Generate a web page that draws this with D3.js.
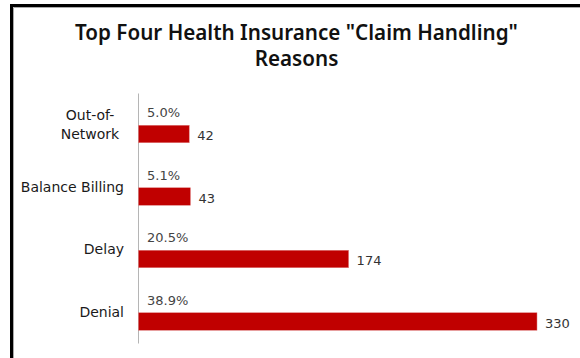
<!DOCTYPE html>
<html>
<head>
<meta charset="utf-8">
<script src="https://cdn.jsdelivr.net/npm/d3@7/dist/d3.min.js"></script>
<style>
  html, body { margin: 0; padding: 0; background: #fff; }
  svg { display: block; font-family: "DejaVu Sans", sans-serif; }
</style>
</head>
<body>
<svg id="chart" width="580" height="358"></svg>
<script>
// Complaint categories, counts and share of all claim-handling complaints
const categories = ["Out-of-Network", "Balance Billing", "Delay", "Denial"];
const counts = [42, 43, 174, 330];
const shares = ["5.0%", "5.1%", "20.5%", "38.9%"];
const titleLines = ["Top Four Health Insurance \"Claim Handling\"", "Reasons"];
const labelLines = { "Out-of-Network": ["Out-of-", "Network"] };

const svg = d3.select("#chart");
const W = 580, H = 358;

svg.append("rect").attr("width", W).attr("height", H).attr("fill", "#fff");

// Frame: heavy black edge on top and left with a faint grey inner line
svg.append("path")
  .attr("d", `M11.5,${H} V5.5 H${W}`)
  .attr("fill", "none").attr("stroke", "#000").attr("stroke-width", 3);
svg.append("path")
  .attr("d", `M13.5,${H} V7.5 H${W}`)
  .attr("fill", "none").attr("stroke", "#aaa").attr("stroke-width", 1);

// Title, sized so the first line spans the chart's title width
const title = svg.append("g")
  .attr("text-anchor", "middle")
  .style("font-family", "'Noto Sans', 'DejaVu Sans', sans-serif")
  .style("font-size", "20px")
  .style("font-weight", 600)
  .attr("fill", "#111");
title.selectAll("text").data(titleLines).join("text")
  .attr("x", 296.5)
  .attr("y", (d, i) => 40 + i * 25.5)
  .text(d => d);
const firstLine = title.select("text").node().getComputedTextLength();
title.style("font-size", (20 * 443 / firstLine) + "px");

// Scales
const x = d3.scaleLinear().domain([0, 330]).range([138.5, 537]);
const y = d3.scaleBand().domain(categories).range([93, 343]).paddingInner(0);
const barH = y.bandwidth() * 0.28;
const barTop = c => y(c) + y.bandwidth() / 2 + 1;

// Category axis (line only, labels drawn separately)
const axis = d3.axisLeft(y).tickSize(0).tickFormat("");
const gAxis = svg.append("g").attr("transform", `translate(${x(0) - 0.5},0)`).call(axis);
gAxis.select(".domain").attr("stroke", "#b5b5b5").attr("stroke-width", 1);

// Category labels
const labels = svg.append("g")
  .style("font-family", "'DejaVu Sans', sans-serif")
  .style("font-size", "14px")
  .attr("fill", "#1a1a1a");
categories.forEach(c => {
  const lines = labelLines[c] || [c];
  const t = labels.append("text");
  const cy = y(c) + y.bandwidth() / 2;
  lines.forEach((ln, i) => {
    t.append("tspan")
      .attr("x", lines.length > 1 ? 90 : 124)
      .attr("text-anchor", lines.length > 1 ? "middle" : "end")
      .attr("y", cy + 5 + (i - (lines.length - 1) / 2) * 19)
      .text(ln);
  });
});

// Bars
const data = categories.map((c, i) => ({ c, v: counts[i], s: shares[i] }));
svg.append("g").selectAll("rect").data(data).join("rect")
  .attr("x", x(0))
  .attr("y", d => barTop(d.c))
  .attr("width", d => x(d.v) - x(0))
  .attr("height", barH)
  .attr("fill", "#c00000")
  .attr("stroke", "#e08080")
  .attr("stroke-width", 0.5);

// Share labels above bars
svg.append("g")
  .style("font-family", "'DejaVu Sans', sans-serif")
  .style("font-size", "13px")
  .attr("fill", "#444")
  .selectAll("text").data(data).join("text")
  .attr("x", x(0) + 8.5)
  .attr("y", d => barTop(d.c) - 8)
  .text(d => d.s);

// Count labels beside bars
svg.append("g")
  .style("font-family", "'DejaVu Sans', sans-serif")
  .style("font-size", "13px")
  .attr("fill", "#333")
  .selectAll("text").data(data).join("text")
  .attr("x", d => x(d.v) + 8)
  .attr("y", d => barTop(d.c) + barH / 2 + 6)
  .text(d => d.v);
</script>
</body>
</html>
